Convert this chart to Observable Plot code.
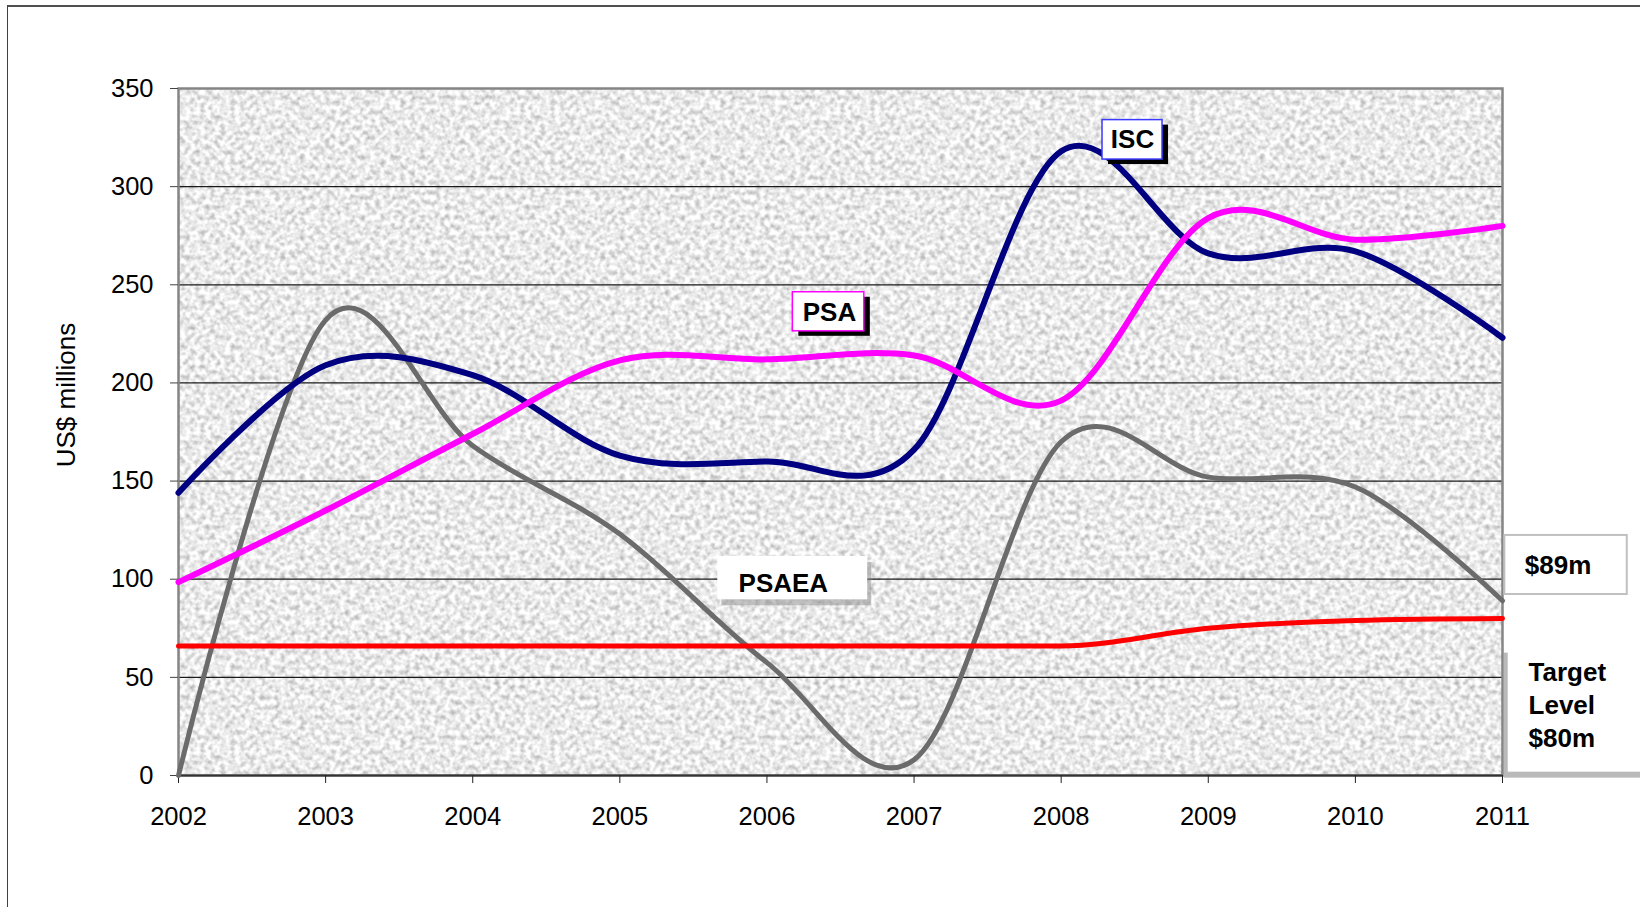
<!DOCTYPE html>
<html><head><meta charset="utf-8">
<script src="https://cdn.jsdelivr.net/npm/d3@7"></script>
<script src="https://cdn.jsdelivr.net/npm/@observablehq/plot@0.6"></script>
<style>
html,body{margin:0;padding:0;background:#fff;}
#wrap{position:relative;width:1640px;height:907px;overflow:hidden;}
#border{position:absolute;left:7px;top:5px;width:1700px;height:1000px;border-left:1.5px solid #404040;border-top:2px solid #505050;}
#chart{position:absolute;left:0;top:0;}
</style></head><body>
<svg width="0" height="0" style="position:absolute">
<defs>
<filter id="noise" x="0" y="0" width="100%" height="100%" color-interpolation-filters="sRGB">
<feTurbulence type="fractalNoise" baseFrequency="0.2" numOctaves="4" seed="7" stitchTiles="stitch"/>
<feColorMatrix type="matrix" values="1 0 0 0 0  1 0 0 0 0  1 0 0 0 0  0 0 0 0 1"/>
<feComponentTransfer>
<feFuncR type="linear" slope="0.6" intercept="0.62"/>
<feFuncG type="linear" slope="0.6" intercept="0.62"/>
<feFuncB type="linear" slope="0.6" intercept="0.62"/>
</feComponentTransfer>
</filter>
<pattern id="granite" patternUnits="userSpaceOnUse" width="320" height="320">
<rect width="320" height="320" filter="url(#noise)"/>
</pattern>
</defs></svg>
<div id="wrap"><div id="border"></div><div id="chart"></div></div>
<script>
// ---- data ----
const years  = [2002, 2003, 2004, 2005, 2006, 2007, 2008, 2009, 2010, 2011];
const isc    = [144, 209, 204, 163, 160, 166, 318, 266, 267, 223];
const psa    = [98.5, 135, 174, 211.5, 212, 214, 191, 284, 273, 280];
const psaea  = [0, 232, 168, 123, 57.5, 8, 170, 152, 147, 89];
const target = [66, 66, 66, 66, 66, 66, 66, 75, 79, 80];
const yTicks = [0, 50, 100, 150, 200, 250, 300, 350];
const yLabel = "US$ millions";

// annotation boxes (data coordinates)
const labelNames = ["ISC", "PSA", "PSAEA", "$89m", "Target\nLevel\n$80m"];
const labelX     = [2008.485, 2006.425, 2005.807, 2011.152, 2011.177];
const labelY     = [324, 236, 98.8, 108.3, 36.8];
const boxX1      = [2008.281, 2006.176, 2005.666, 2011.016, 2011.039];
const boxX2      = [2008.689, 2006.662, 2006.685, 2011.848, 2011.97];
const boxY1      = [313.8, 226.3, 89.5, 92.2, 1.7];
const boxY2      = [333.9, 246.2, 111.6, 122.3, 65.4];

const rows = vals => years.map((year, i) => ({year, value: vals[i]}));
const boxes = labelNames.map((t, i) => ({t, x: labelX[i], y: labelY[i], x1: boxX1[i], x2: boxX2[i], y1: boxY1[i], y2: boxY2[i]}));
const grid = yTicks.filter(v => v > 0 && v < 350);

const bold = {fontWeight: "bold", fontSize: 26, fill: "#000"};

const chart = Plot.plot({
  width: 1640, height: 907,
  marginLeft: 178, marginRight: 138, marginTop: 88, marginBottom: 132,
  x: {domain: [2002, 2011]},
  y: {domain: [0, 350]},
  style: {fontFamily: "'Liberation Sans', Arial, sans-serif", fontSize: "25.5px", background: "transparent", color: "#000", overflow: "visible"},
  marks: [
    Plot.frame({fill: "url(#granite)"}),
    Plot.ruleY(grid, {stroke: "#1a1a1a", strokeWidth: 1.2}),
    Plot.frame({stroke: "#858585", strokeWidth: 2.5}),
    Plot.ruleY([0], {stroke: "#333", strokeWidth: 2.2}),
    Plot.axisY({ticks: yTicks, tickSize: 8, tickPadding: 17, stroke: "#444", fontSize: 25.5, label: null}),
    Plot.axisX({ticks: years, tickFormat: d => String(d), tickSize: 8, tickPadding: 23, stroke: "#222", fontSize: 25.5, label: null}),
    Plot.line(rows(psaea), {x: "year", y: "value", stroke: "#6b6b6b", strokeWidth: 5, curve: "cardinal"}),
    Plot.line(rows(isc), {x: "year", y: "value", stroke: "#000080", strokeWidth: 6, curve: "cardinal"}),
    Plot.line(rows(psa), {x: "year", y: "value", stroke: "#ff00ff", strokeWidth: 6, curve: "cardinal"}),
    Plot.line(rows(target), {x: "year", y: "value", stroke: "#ff0000", strokeWidth: 5, curve: "monotone-x"}),
    // shadows
    Plot.rect(boxes.slice(0, 2), {x1: "x1", x2: "x2", y1: "y1", y2: "y2", fill: "#000", dx: 6, dy: 5}),
    Plot.rect(boxes.slice(2, 3), {x1: "x1", x2: "x2", y1: "y1", y2: "y2", fill: "#8a8a8a", fillOpacity: 0.5, dx: 4, dy: 6}),
    Plot.rect(boxes.slice(4, 5), {x1: "x1", x2: "x2", y1: "y1", y2: "y2", fill: "#8a8a8a", fillOpacity: 0.6, dx: -4, dy: 6}),
    // boxes
    Plot.rect(boxes.slice(0, 1), {x1: "x1", x2: "x2", y1: "y1", y2: "y2", fill: "#fff", stroke: "#3a3aff", strokeWidth: 1.5}),
    Plot.rect(boxes.slice(1, 2), {x1: "x1", x2: "x2", y1: "y1", y2: "y2", fill: "#fff", stroke: "#ff00ff", strokeWidth: 1.5}),
    Plot.rect(boxes.slice(2, 3), {x1: "x1", x2: "x2", y1: "y1", y2: "y2", fill: "#fff"}),
    Plot.rect(boxes.slice(3, 4), {x1: "x1", x2: "x2", y1: "y1", y2: "y2", fill: "#fff", stroke: "#c0c0c0", strokeWidth: 2}),
    Plot.rect(boxes.slice(4, 5), {x1: "x1", x2: "x2", y1: "y1", y2: "y2", fill: "#fff"}),
    // label texts
    Plot.text(boxes.slice(0, 2), {x: "x", y: "y", text: "t", textAnchor: "middle", ...bold}),
    Plot.text(boxes.slice(2), {x: "x", y: "y", text: "t", textAnchor: "start", lineHeight: 1.27, ...bold}),
    // y label
    Plot.text([yLabel], {frameAnchor: "left", textAnchor: "middle", rotate: -90, dx: -112, dy: -37, fontSize: 26, fill: "#000"})
  ]
});
document.getElementById("chart").appendChild(chart);
</script>
</body></html>
